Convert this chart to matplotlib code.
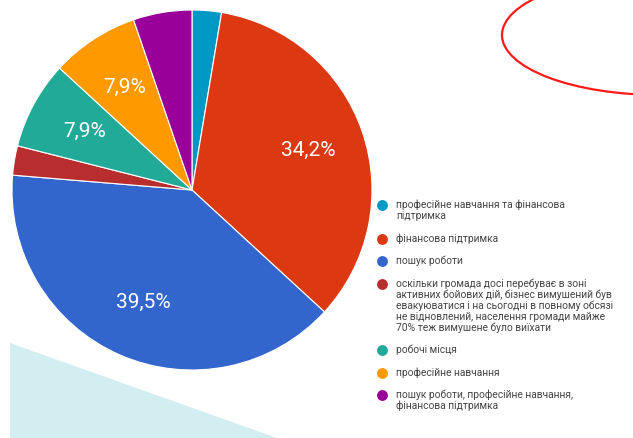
import matplotlib.pyplot as plt
from matplotlib.patches import Polygon, Ellipse

plt.rcParams["font.family"] = ["Roboto", "DejaVu Sans"]

# --- Data (responses, 38 total) ---
categories = [
    "професійне навчання та фінансова\nпідтримка",
    "фінансова підтримка",
    "пошук роботи",
    "оскільки громада досі перебуває в зоні\nактивних бойових дій, бізнес вимушений був\n"
    "евакуюватися і на сьогодні в повному обсязі\nне відновлений, населення громади майже\n"
    "70% теж вимушене було виїхати",
    "робочі місця",
    "професійне навчання",
    "пошук роботи, професійне навчання,\nфінансова підтримка",
]
counts = [1, 13, 15, 1, 3, 3, 2]
colors = ["#0099c6", "#dc3912", "#3366cc", "#b82e2e", "#22aa99", "#ff9900", "#990099"]

W, H = 633, 438
fig = plt.figure(figsize=(W / 100, H / 100), dpi=100)

# background decorations (pixel coordinates)
bg = fig.add_axes([0, 0, 1, 1], zorder=0)
bg.set_xlim(0, W)
bg.set_ylim(H, 0)
bg.axis("off")
bg.add_patch(Polygon([(10, 343), (277, 438), (10, 438)], closed=True,
                     facecolor="#d3eef0", edgecolor="none"))
bg.add_patch(Ellipse((660, 35), 316, 120, facecolor="none",
                     edgecolor="#ff1a1a", linewidth=1.6))

# --- Pie ---
cx, cy, r = 192, 190, 180
ax = fig.add_axes([(cx - r) / W, (H - cy - r) / H, 2 * r / W, 2 * r / H], zorder=1)


def fmt(p):
    return f"{p:.1f}%".replace(".", ",") if p > 6 else ""


wedges, _, autotexts = ax.pie(
    counts, colors=colors, startangle=90, counterclock=False,
    autopct=fmt, pctdistance=0.68,
    wedgeprops=dict(edgecolor="white", linewidth=0.8),
    textprops=dict(color="white", fontsize=15),
)
ax.set_aspect("auto")
ax.set_xlim(-1, 1)
ax.set_ylim(-1, 1)

# --- Legend (marker at the first line of each entry) ---
lg = fig.add_axes([0, 0, 1, 1], zorder=2)
lg.set_xlim(0, W)
lg.set_ylim(H, 0)
lg.axis("off")
y = 205
line_h = 11
for label, color in zip(categories, colors):
    lines = label.split("\n")
    lg.plot(382, y, "o", color=color, markersize=6.8)
    for i, line in enumerate(lines):
        lg.text(396, y + i * line_h, line, fontsize=7.4, color="#444444", va="center")
    y += (len(lines) - 1) * line_h + 22.5

fig.savefig("out.png", dpi=100, facecolor="white")
